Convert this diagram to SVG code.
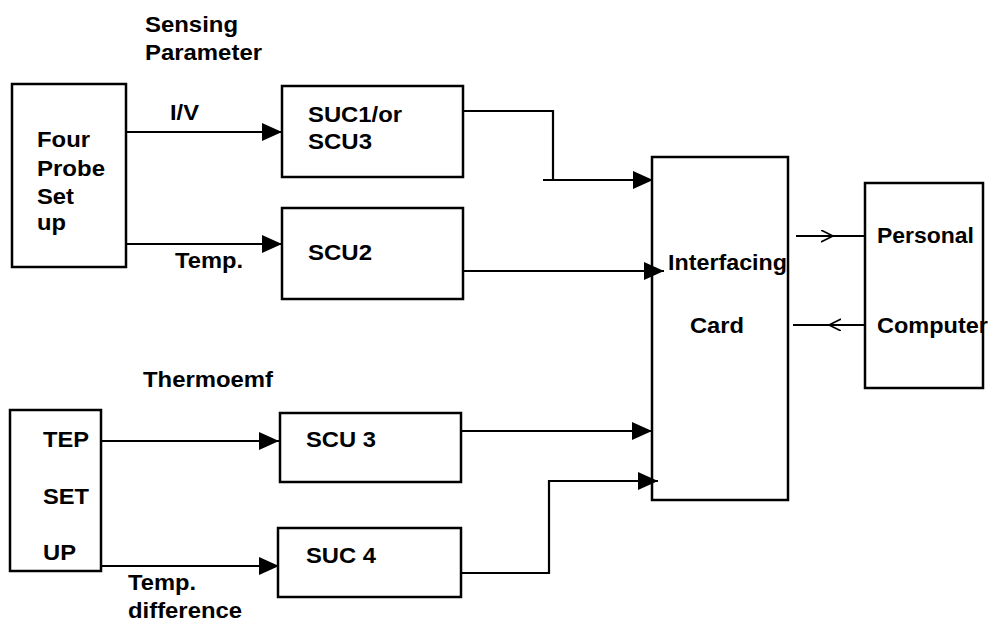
<svg xmlns="http://www.w3.org/2000/svg" width="988" height="623" viewBox="0 0 988 623">
<style>
text{font-family:"Liberation Sans",Arial,sans-serif;font-weight:bold;font-size:22px;fill:#000}
.box{fill:#fff;stroke:#000;stroke-width:2.5}
.ln{fill:none;stroke:#000;stroke-width:2.2}
</style>
<defs>
<marker id="tri" markerUnits="userSpaceOnUse" markerWidth="22" markerHeight="20" refX="20" refY="9" orient="auto">
<path d="M0,0 L20,9 L0,18 z" fill="#000"/>
</marker>
<marker id="open" markerUnits="userSpaceOnUse" markerWidth="14" markerHeight="14" refX="12" refY="6" orient="auto">
<path d="M0,0 L12,6 L0,12" fill="none" stroke="#000" stroke-width="1.6"/>
</marker>
</defs>
<rect width="988" height="623" fill="#fff"/>
<text x="145" y="32" textLength="93" lengthAdjust="spacingAndGlyphs">Sensing</text>
<text x="145" y="60" textLength="117" lengthAdjust="spacingAndGlyphs">Parameter</text>
<text x="143" y="387" textLength="130" lengthAdjust="spacingAndGlyphs">Thermoemf</text>
<g id="connectors">
<path class="ln" d="M126,132 L282,132" marker-end="url(#tri)"/>
<text x="170" y="120" textLength="29" lengthAdjust="spacingAndGlyphs">I/V</text>
<path class="ln" d="M126,244 L282,244" marker-end="url(#tri)"/>
<text x="175" y="268" textLength="68" lengthAdjust="spacingAndGlyphs">Temp.</text>
<path class="ln" d="M463,111 L553,111 L553,180"/>
<path class="ln" d="M543,180 L653,180" marker-end="url(#tri)"/>
<path class="ln" d="M463,271 L664,271" marker-end="url(#tri)"/>
<path class="ln" d="M101,441 L279,441" marker-end="url(#tri)"/>
<path class="ln" d="M101,566 L279,566" marker-end="url(#tri)"/>
<text x="128" y="590" textLength="68" lengthAdjust="spacingAndGlyphs">Temp.</text>
<text x="128" y="618" textLength="114" lengthAdjust="spacingAndGlyphs">difference</text>
<path class="ln" d="M461,431 L652,431" marker-end="url(#tri)"/>
<path class="ln" d="M461,573 L549,573 L549,481 L658,481" marker-end="url(#tri)"/>
<path class="ln" d="M796,236 L833,236 L865,236" marker-mid="url(#open)"/>
<path class="ln" d="M865,325 L829,325 L793,325" marker-mid="url(#open)"/>
</g>
<g id="four-probe">
<rect class="box" x="12" y="84" width="114" height="183"/>
<text x="37" y="147" textLength="53" lengthAdjust="spacingAndGlyphs">Four</text>
<text x="37" y="176" textLength="68" lengthAdjust="spacingAndGlyphs">Probe</text>
<text x="37" y="204" textLength="37" lengthAdjust="spacingAndGlyphs">Set</text>
<text x="37" y="230" textLength="29" lengthAdjust="spacingAndGlyphs">up</text>
</g>
<g id="suc1">
<rect class="box" x="282" y="86" width="181" height="91"/>
<text x="308" y="122" textLength="94" lengthAdjust="spacingAndGlyphs">SUC1/or</text>
<text x="308" y="149" textLength="64" lengthAdjust="spacingAndGlyphs">SCU3</text>
</g>
<g id="scu2">
<rect class="box" x="282" y="208" width="181" height="91"/>
<text x="308" y="260" textLength="64" lengthAdjust="spacingAndGlyphs">SCU2</text>
</g>
<g id="tep">
<rect class="box" x="10" y="410" width="91" height="161"/>
<text x="43" y="447" textLength="46" lengthAdjust="spacingAndGlyphs">TEP</text>
<text x="43" y="504" textLength="46" lengthAdjust="spacingAndGlyphs">SET</text>
<text x="43" y="560" textLength="33" lengthAdjust="spacingAndGlyphs">UP</text>
</g>
<g id="scu3">
<rect class="box" x="280" y="413" width="181" height="69"/>
<text x="306" y="447" textLength="70" lengthAdjust="spacingAndGlyphs">SCU 3</text>
</g>
<g id="suc4">
<rect class="box" x="278" y="528" width="183" height="69"/>
<text x="306" y="563" textLength="70" lengthAdjust="spacingAndGlyphs">SUC 4</text>
</g>
<g id="interfacing">
<rect class="box" x="652" y="157" width="136" height="343" fill-opacity="0"/>
<text x="668" y="270" textLength="119" lengthAdjust="spacingAndGlyphs">Interfacing</text>
<text x="690" y="333" textLength="54" lengthAdjust="spacingAndGlyphs">Card</text>
</g>
<g id="pc">
<rect class="box" x="865" y="183" width="118" height="205"/>
<text x="877" y="243" textLength="97" lengthAdjust="spacingAndGlyphs">Personal</text>
<text x="877" y="333" textLength="111" lengthAdjust="spacingAndGlyphs">Computer</text>
</g>
</svg>
